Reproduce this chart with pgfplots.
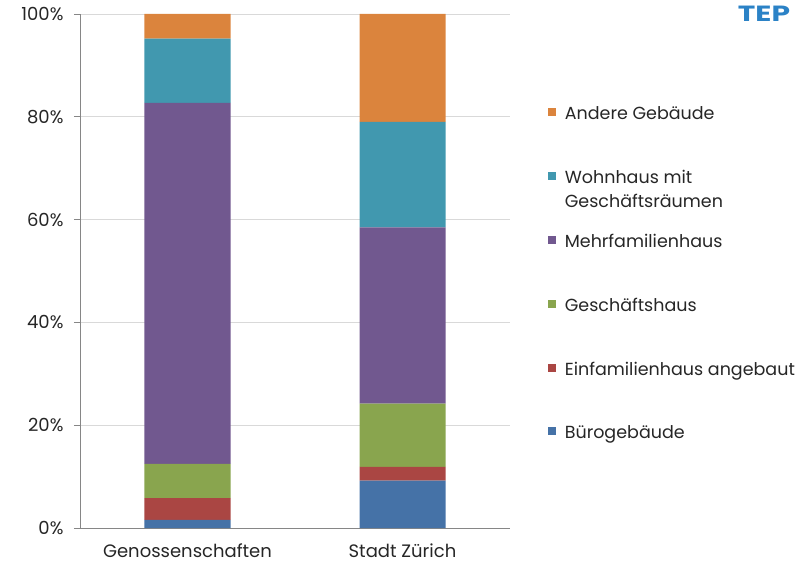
\documentclass[border=0pt]{standalone}
\usepackage{pgfplots}
\pgfplotsset{compat=1.18}
\usepackage{fontspec}
\setmainfont{Poppins}

\definecolor{cBuero}{HTML}{4572A7}
\definecolor{cEFH}{HTML}{AA4643}
\definecolor{cGesch}{HTML}{89A54E}
\definecolor{cMFH}{HTML}{71588F}
\definecolor{cWohn}{HTML}{4198AF}
\definecolor{cAndere}{HTML}{DB843D}
\definecolor{axisgrey}{HTML}{868686}
\definecolor{gridgrey}{HTML}{D9D9D9}
\definecolor{tepblue}{HTML}{2B82C6}

\begin{document}
\begin{tikzpicture}
% fixed page frame around the plot area
\path[use as bounding box] (-80pt,-35pt) rectangle (718pt,528pt);
\begin{axis}[
  at={(0pt,0pt)}, anchor=south west,
  scale only axis,
  width=430pt, height=514pt,
  ybar stacked, bar width=86pt,
  xmin=-0.5, xmax=1.5, ymin=0, ymax=100,
  axis x line*=bottom, axis y line*=left,
  axis line style={draw=axisgrey, line width=0.9pt, -},
  tick align=outside,
  xtick={0,1},
  xticklabels={Genossenschaften, Stadt Zürich},
  major x tick style={draw=none},
  extra x ticks={-0.5,0.5,1.5},
  extra x tick labels={},
  extra x tick style={major tick length=6pt, tick style={draw=axisgrey, line width=0.9pt}, grid=none},
  ytick={0,20,40,60,80,100},
  yticklabel={\pgfmathprintnumber{\tick}\%},
  /pgf/number format/assume math mode=true,
  major y tick style={draw=axisgrey, line width=0.9pt},
  major tick length=6pt,
  ymajorgrids, grid style={draw=gridgrey, line width=0.9pt},
  tick label style={font=\fontsize{18}{22}\selectfont, text=black!85},
  xticklabel style={yshift=-6pt},
  yticklabel style={xshift=-7pt},
  reverse legend,
  legend cell align=left,
  legend style={
    draw=none, fill=none,
    at={(1.088,0.827)}, anchor=north west,
    inner sep=0pt, outer sep=0pt,
    font=\fontsize{17.5}{24}\selectfont,
    text=black!85,
    row sep=18.8pt, column sep=9pt,
    nodes={text height=17pt, text depth=28pt, inner sep=0pt},
  },
  legend image code/.code={%
    \fill[#1] (0pt,9pt) rectangle (8pt,17pt);
  },
]
\addplot[fill=cBuero, draw=none] coordinates {(0,1.6) (1,9.2)};
\addplot[fill=cEFH, draw=none] coordinates {(0,4.2) (1,2.7)};
\addplot[fill=cGesch, draw=none] coordinates {(0,6.7) (1,12.3)};
\addplot[fill=cMFH, draw=none] coordinates {(0,70.2) (1,34.3)};
\addplot[fill=cWohn, draw=none] coordinates {(0,12.5) (1,20.5)};
\addplot[fill=cAndere, draw=none] coordinates {(0,4.8) (1,21.0)};
\legend{Bürogebäude, Einfamilienhaus angebaut, Geschäftshaus, Mehrfamilienhaus,
  {\begin{tabular}[t]{@{}l@{}}Wohnhaus mit\\Geschäftsräumen\end{tabular}},
  Andere Gebäude}
\end{axis}
% company logo, top right
\node[inner sep=0pt, font=\bfseries\fontsize{22}{22}\selectfont, text=tepblue]
  at (684pt,514pt) {\scalebox{1.35}[1]{TEP}};
\end{tikzpicture}
\end{document}
